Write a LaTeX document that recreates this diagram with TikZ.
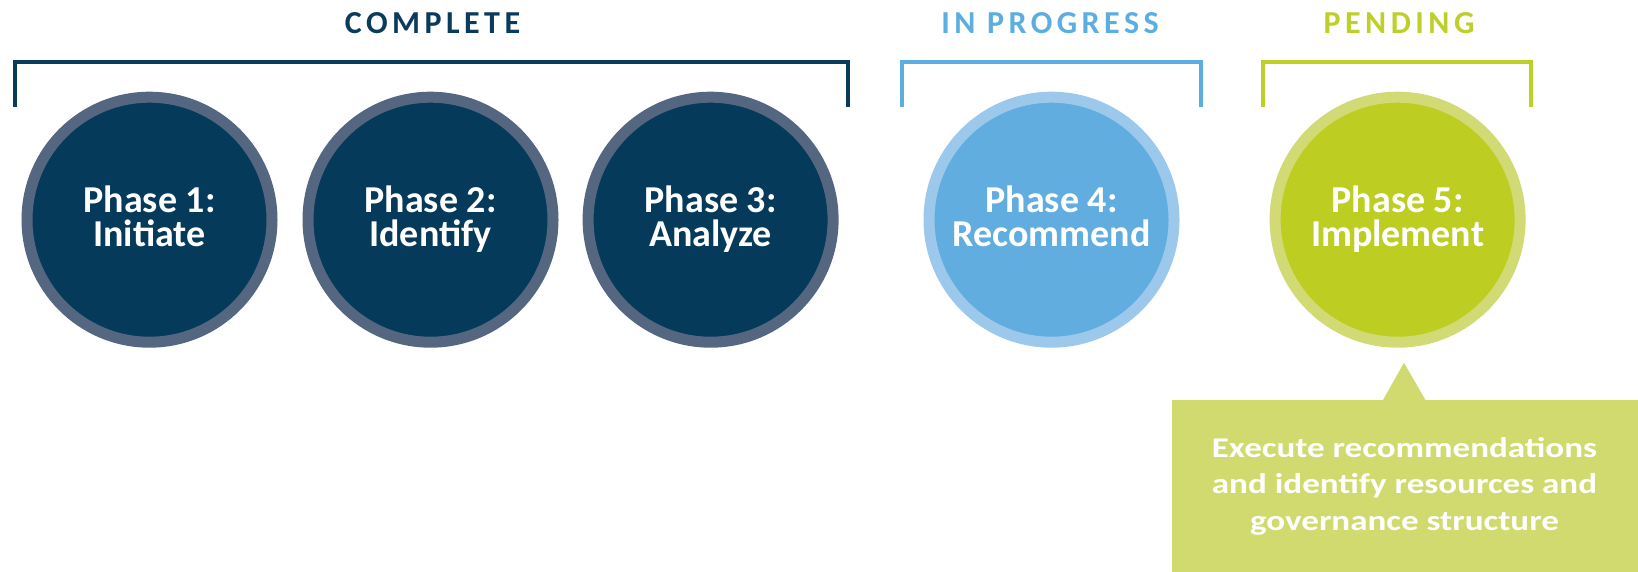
\documentclass[tikz,border=0pt]{standalone}
\usepackage{fontspec}
\setmainfont{Carlito}
\newfontfamily\hdrfont[LetterSpace=14]{Carlito}
\newfontfamily\callfont[FakeStretch=1.23]{Carlito}
\newcommand\twolines[2]{\vbox{\halign{\hfil##\hfil\cr#1\cr#2\cr}}}
\newcommand\threelines[3]{\vbox{\halign{\hfil##\hfil\cr#1\cr#2\cr#3\cr}}}
\begin{document}
\begin{tikzpicture}[x=1pt,y=-1pt,
  phase/.style={circle, minimum size=245pt, line width=11pt, inner sep=0pt, text=white,
    font=\bfseries\fontsize{38}{34}\selectfont, text height=52.6pt, text depth=0pt},
  done/.style={phase, fill=navyfill, draw=navyring},
  prog/.style={phase, fill=bluefill, draw=bluering},
  pend/.style={phase, fill=greenfill, draw=greenring},
  hdr/.style={font=\hdrfont\bfseries\fontsize{32}{36}\selectfont, anchor=base, inner sep=0pt},
  bracket/.style={line width=4pt, line cap=rect}
]
\definecolor{navyfill}{HTML}{063A5A}
\definecolor{navyring}{HTML}{556680}
\definecolor{navytext}{HTML}{0B3B5B}
\definecolor{bluefill}{HTML}{62ADE0}
\definecolor{bluering}{HTML}{9BC8EB}
\definecolor{bluetext}{HTML}{5DAEE0}
\definecolor{greenfill}{HTML}{BDCD22}
\definecolor{greenring}{HTML}{D2DA75}
\definecolor{greentext}{HTML}{BFCF2A}
\definecolor{callfill}{HTML}{D1DA6F}
\useasboundingbox (0,0) rectangle (1638,571);

% headers
\node[hdr, text=navytext] (hcomplete) at (432.5,33.3) {COMPLETE};
\node[hdr, text=bluetext] (hprogress) at (1050,33.3) {IN PROGRESS};
\node[hdr, text=greentext] (hpending) at (1399,33.3) {PENDING};

% brackets
\draw[bracket, navytext] (14.7,105) -- (14.7,62) -- (848,62) -- (848,105);
\draw[bracket, bluetext] (902,105) -- (902,62) -- (1201,62) -- (1201,105);
\draw[bracket, greentext] (1262.5,105) -- (1262.5,62) -- (1531,62) -- (1531,105);

% circles
\node[done] (p1) at (149.5,219.7) {\twolines{Phase 1:}{Initiate}};
\node[done] (p2) at (430.5,219.7) {\twolines{Phase 2:}{Identify}};
\node[done] (p3) at (710.6,219.7) {\twolines{Phase 3:}{Analyze}};
\node[prog] (p4) at (1051.5,219.7) {\twolines{Phase 4:}{Recommend}};
\node[pend] (p5) at (1397.6,219.7) {\twolines{Phase 5:}{Implement}};

% callout
\node[fill=callfill, minimum width=467pt, minimum height=172pt, inner sep=0pt, anchor=north west] (call) at (1172,400) {};
\coordinate (apex) at (1404,362.7);
\fill[callfill] (apex) -- (1382.4,401) -- (1426,401) -- cycle;
\node[text=white, font=\callfont\bfseries\fontsize{28.5}{36.4}\selectfont, anchor=base, inner sep=0pt] (calltext) at (1404.5,530)
  {\threelines{Execute recommendations}{and identify resources and}{governance structure}};
\end{tikzpicture}
\end{document}
